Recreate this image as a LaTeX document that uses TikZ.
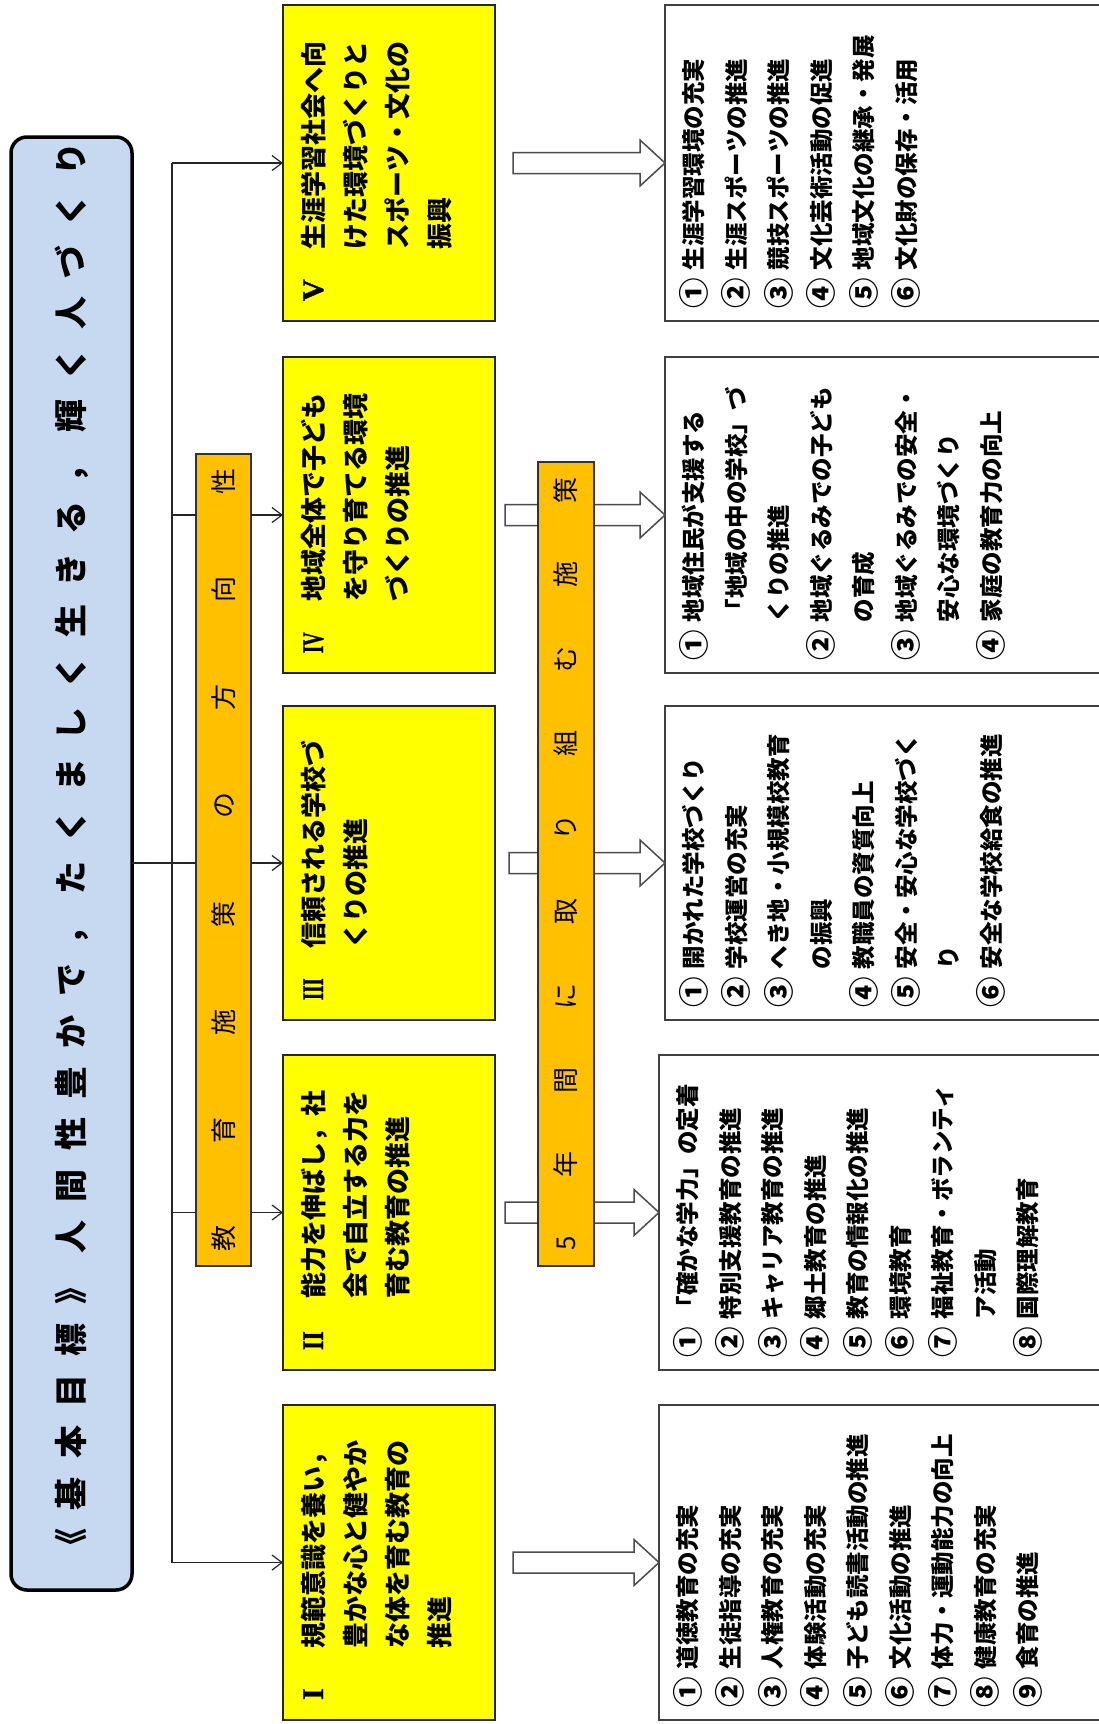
\documentclass[tikz,border=0pt]{standalone}
\usepackage{graphicx}
\usepackage{fontspec}
\setmainfont{Noto Sans CJK JP}
\newfontfamily\romanfont{Liberation Serif}[FakeBold=1.5]
\usetikzlibrary{arrows.meta,calc}
\definecolor{goalblue}{HTML}{C6D9F1}
\definecolor{boxyellow}{HTML}{FFFF00}
\definecolor{barorange}{HTML}{FFC000}
\newcommand\barrow[3]{\path[barrow] let \p1=(#1), \p2=(#2) in
  (\x1+#3,\y1+10.5pt) -- (\x2-25pt,\y1+10.5pt) -- (\x2-25pt,\y1+23pt) -- (\x2,\y1)
  -- (\x2-25pt,\y1-23pt) -- (\x2-25pt,\y1-10.5pt) -- (\x1+#3,\y1-10.5pt) -- cycle;}
\newcommand\cnum[1]{\makebox[38pt][l]{\raisebox{-2.4pt}{\fontsize{30.5}{30.5}\selectfont #1}}}
\newcommand\rnum[2]{\makebox[52pt][l]{\fontsize{30}{30}\romanfont\bfseries\scalebox{#2}[1]{#1}}}
\begin{document}
\begin{tikzpicture}[x=1pt,y=-1pt,
  every node/.style={inner sep=0pt, outer sep=0pt},
  goalbox/.style={draw=black, line width=3.5pt, rounded corners=16pt, fill=goalblue, anchor=north west},
  ybox/.style={draw=black!85, line width=1.4pt, fill=boxyellow, anchor=north west},
  wbox/.style={draw=black!75, line width=1.8pt, fill=white, anchor=north west},
  obar/.style={draw=black!80, line width=1.4pt, fill=barorange, anchor=north west},
  ytext/.style={rotate=90, anchor=north west, font=\fontsize{26}{42}\selectfont\bfseries},
  wtext/.style={rotate=90, anchor=north west, font=\fontsize{23.5}{42.5}\selectfont\bfseries},
  btext/.style={rotate=90, font=\fontsize{26}{30}\selectfont},
  gtext/.style={rotate=90, font=\fontsize{33}{40}\selectfont\bfseries},
  link/.style={draw=black!85, line width=1.2pt},
  tip/.style={link, -{Straight Barb[length=10pt,width=15pt]}},
  barrow/.style={draw=black!70, line width=1.5pt, fill=white}
]
\useasboundingbox (0,0) rectangle (1099,1724);
\clip (0,0) rectangle (1099,1724);
\fill[white] (0,0) rectangle (1099,1724);

% title box
\node[goalbox, minimum width=121pt, minimum height=1453pt] (goal) at (11,137) {};
\node[gtext] (gt) at (71.5,852) {\makebox[1419pt]{《\hfill 基\hfill 本\hfill 目\hfill 標\hfill 》\hfill 人\hfill 間\hfill 性\hfill 豊\hfill か\hfill で\hfill ，\hfill た\hfill く\hfill ま\hfill し\hfill く\hfill 生\hfill き\hfill る\hfill ，\hfill 輝\hfill く\hfill 人\hfill づ\hfill く\hfill り}};

% yellow boxes
\node[ybox, minimum width=212pt, minimum height=316pt] (y5) at (283,5) {};
\node[ybox, minimum width=212pt, minimum height=316pt] (y4) at (283,357) {};
\node[ybox, minimum width=212pt, minimum height=314pt] (y3) at (283,706) {};
\node[ybox, minimum width=212pt, minimum height=315pt] (y2) at (283,1055) {};
\node[ybox, minimum width=212pt, minimum height=315pt] (y1) at (283,1405) {};

% white boxes
\node[wbox, minimum width=460pt, minimum height=316pt] (w5) at (665,5) {};
\node[wbox, minimum width=460pt, minimum height=316pt] (w4) at (665,357) {};
\node[wbox, minimum width=460pt, minimum height=314pt] (w3) at (665,706) {};
\node[wbox, minimum width=466pt, minimum height=315pt] (w2) at (659,1055) {};
\node[wbox, minimum width=466pt, minimum height=315pt] (w1) at (659,1405) {};

% block arrows
\barrow{y5.east}{w5.west}{18pt}
\barrow{y4.east}{w4.west}{10pt}
\barrow{y3.east}{w3.west}{14pt}
\barrow{y2.east}{w2.west}{10pt}
\barrow{y1.east}{w1.west}{18pt}

% orange bars
\node[obar, minimum width=55pt, minimum height=812pt] (b1) at (196,454) {};
\node[obar, minimum width=56pt, minimum height=804pt] (b2) at (538,462) {};
\node[btext] (bt1) at (b1.center) {\makebox[783pt]{教\hfill 育\hfill 施\hfill 策\hfill の\hfill 方\hfill 向\hfill 性}};
\node[btext] (bt2) at (b2.center) {\makebox[773pt]{5\hfill 年\hfill 間\hfill に\hfill 取\hfill り\hfill 組\hfill む\hfill 施\hfill 策}};

% connectors
\coordinate (tx) at (172,0);
\draw[link] (tx |- y5.west) -- (tx |- y1.west);
\draw[tip] (tx |- y5.west) -- (y5.west);
\draw[tip] (tx |- y1.west) -- (y1.west);
\draw[link] (goal.east |- y3.west) -- (b1.west |- y3.west);
\draw[link] (tx |- y4.west) -- (b1.west |- y4.west);
\draw[link] (tx |- y2.west) -- (b1.west |- y2.west);
\draw[tip] (b1.east |- y4.west) -- (y4.west);
\draw[tip] (b1.east |- y3.west) -- (y3.west);
\draw[tip] (b1.east |- y2.west) -- (y2.west);

% yellow texts
\node[ytext] (t5) at ([xshift=10.6pt,yshift=20pt]y5.south west) {\begin{tabular}{@{}l@{}l@{}}\rnum{V}{1}&生涯学習社会へ向\\&けた環境づくりと\\&スポーツ・文化の\\&振興\end{tabular}};
\node[ytext] (t4) at ([xshift=10.6pt,yshift=20pt]y4.south west) {\begin{tabular}{@{}l@{}l@{}}\rnum{IV}{0.62}&地域全体で子ども\\&を守り育てる環境\\&づくりの推進\end{tabular}};
\node[ytext] (t3) at ([xshift=10.6pt,yshift=20pt]y3.south west) {\begin{tabular}{@{}l@{}l@{}}\rnum{III}{0.62}&信頼される学校づ\\&くりの推進\end{tabular}};
\node[ytext] (t2) at ([xshift=10.6pt,yshift=20pt]y2.south west) {\begin{tabular}{@{}l@{}l@{}}\rnum{II}{0.8}&能力を伸ばし，社\\&会で自立する力を\\&育む教育の推進\end{tabular}};
\node[ytext] (t1) at ([xshift=10.6pt,yshift=20pt]y1.south west) {\begin{tabular}{@{}l@{}l@{}}\rnum{I}{1}&規範意識を養い，\\&豊かな心と健やか\\&な体を育む教育の\\&推進\end{tabular}};

% white texts
\node[wtext] (s5) at ([xshift=8.2pt,yshift=13pt]w5.south west) {\begin{tabular}{@{}l@{}l@{}}\cnum{①}&生涯学習環境の充実\\\cnum{②}&生涯スポーツの推進\\\cnum{③}&競技スポーツの推進\\\cnum{④}&文化芸術活動の促進\\\cnum{⑤}&地域文化の継承・発展\\\cnum{⑥}&文化財の保存・活用\end{tabular}};
\node[wtext] (s4) at ([xshift=8.2pt,yshift=13pt]w4.south west) {\begin{tabular}{@{}l@{}l@{}}\cnum{①}&地域住民が支援する\\&「地域の中の学校」づ\\&くりの推進\\\cnum{②}&地域ぐるみでの子ども\\&の育成\\\cnum{③}&地域ぐるみでの安全・\\&安心な環境づくり\\\cnum{④}&家庭の教育力の向上\end{tabular}};
\node[wtext] (s3) at ([xshift=8.2pt,yshift=13pt]w3.south west) {\begin{tabular}{@{}l@{}l@{}}\cnum{①}&開かれた学校づくり\\\cnum{②}&学校運営の充実\\\cnum{③}&へき地・小規模校教育\\&の振興\\\cnum{④}&教職員の資質向上\\\cnum{⑤}&安全・安心な学校づく\\&り\\\cnum{⑥}&安全な学校給食の推進\end{tabular}};
\node[wtext] (s2) at ([xshift=8.2pt,yshift=13pt]w2.south west) {\begin{tabular}{@{}l@{}l@{}}\cnum{①}&「確かな学力」の定着\\\cnum{②}&特別支援教育の推進\\\cnum{③}&キャリア教育の推進\\\cnum{④}&郷土教育の推進\\\cnum{⑤}&教育の情報化の推進\\\cnum{⑥}&環境教育\\\cnum{⑦}&福祉教育・ボランティ\\&ア活動\\\cnum{⑧}&国際理解教育\end{tabular}};
\node[wtext] (s1) at ([xshift=8.2pt,yshift=13pt]w1.south west) {\begin{tabular}{@{}l@{}l@{}}\cnum{①}&道徳教育の充実\\\cnum{②}&生徒指導の充実\\\cnum{③}&人権教育の充実\\\cnum{④}&体験活動の充実\\\cnum{⑤}&子ども読書活動の推進\\\cnum{⑥}&文化活動の推進\\\cnum{⑦}&体力・運動能力の向上\\\cnum{⑧}&健康教育の充実\\\cnum{⑨}&食育の推進\end{tabular}};
\end{tikzpicture}
\end{document}
